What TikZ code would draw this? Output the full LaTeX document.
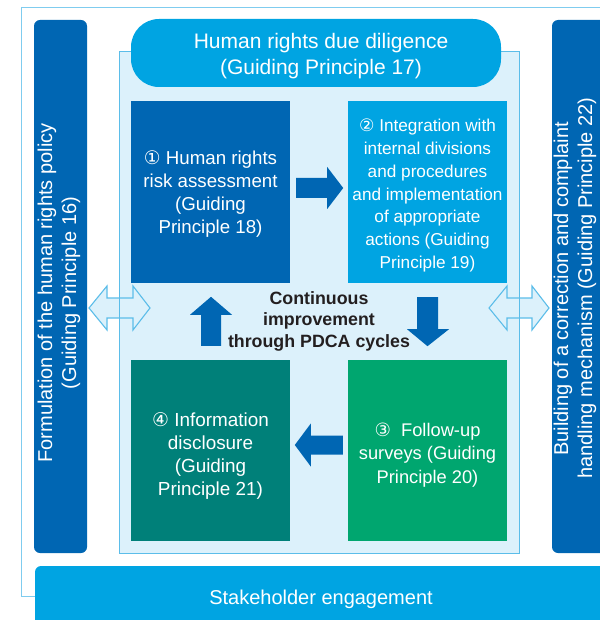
\documentclass[tikz,border=0pt]{standalone}
\usepackage{fontspec}
\setmainfont{Liberation Sans}
\newfontfamily\circfont{DejaVu Sans}
\usetikzlibrary{calc}

\definecolor{deepblue}{HTML}{0066B3}
\definecolor{skyblue}{HTML}{00A4E2}
\definecolor{leafgreen}{HTML}{00A66F}
\definecolor{tealgreen}{HTML}{008079}
\definecolor{paleblue}{HTML}{DCF1FB}
\definecolor{edgeblue}{HTML}{5BBDE9}
\definecolor{framelight}{HTML}{7FCCEF}
\definecolor{inkdark}{HTML}{231F20}

\tikzset{
  stepbox/.style={rectangle, minimum width=159pt, minimum height=182pt, inner sep=0pt},
  steptext/.style={text=white, align=center, inner sep=0pt,
    font=\fontsize{18.7}{23}\selectfont},
  blockarrow/.style={fill=deepblue, draw=none},
  twoway/.style={fill=paleblue, draw=edgeblue, line width=1.1pt, line join=miter},
  columntext/.style={text=white, rotate=90, font=\fontsize{20}{24}\selectfont, inner sep=0pt},
  bandtext/.style={text=white, align=center, font=\fontsize{21}{26}\selectfont},
}

\begin{document}
\begin{tikzpicture}[x=1pt, y=-1pt]
\useasboundingbox (0,0) rectangle (599,620);

% thin outer frame
\draw[framelight, line width=1pt] (640,8) -- (21,8) -- (21,596) -- (40,596);

% side columns
\fill[deepblue, rounded corners=6pt] (34,20) rectangle (87,553);
\fill[deepblue, rounded corners=6pt] (552,20) rectangle (640,553);
\node[columntext] (leftA) at (47,293) {Formulation of the human rights policy};
\node[columntext] (leftB) at (71,293) {(Guiding Principle 16)};
\node[columntext] (rightA) at (563,289) {Building of a correction and complaint};
\node[columntext] (rightB) at (587,288) {handling mechanism (Guiding Principle 22)};

% pale panel
\fill[paleblue] (119,52) rectangle (519,553);

% two-way arrows linking the side columns with the panel
\draw[twoway] (89,308) -- (107,286) -- (107,298) -- (133,298) -- (133,286)
  -- (150,308) -- (133,330) -- (133,318) -- (107,318) -- (107,330) -- cycle;
\draw[twoway] (489,308) -- (507,286) -- (507,298) -- (532,298) -- (532,286)
  -- (549,308) -- (532,330) -- (532,318) -- (507,318) -- (507,330) -- cycle;

% panel outline drawn over the arrows
\draw[edgeblue, line width=1pt] (119,52) rectangle (519,553);

% due diligence banner
\fill[skyblue, rounded corners=28pt] (131,19) rectangle (501,87);
\node[bandtext] (dd) at (321,56) {Human rights due diligence\\(Guiding Principle 17)};

% the four steps
\node[stepbox, fill=deepblue] (s1) at (210.5,192) {};
\node[stepbox, fill=skyblue] (s2) at (427.5,192) {};
\node[stepbox, fill=leafgreen, minimum height=181pt] (s3) at (427.5,450.5) {};
\node[stepbox, fill=tealgreen, minimum height=181pt] (s4) at (210.5,450.5) {};

\node[steptext] (t1) at ($(s1.center)+(0,2)$)
  {{\circfont ①} Human rights\\risk assessment\\(Guiding\\Principle 18)};
\node[steptext, font=\fontsize{17.2}{22.7}\selectfont] (t2) at ($(s2.center)+(0,3.5)$)
  {{\circfont ②} Integration with\\internal divisions\\and procedures\\and implementation\\of appropriate\\actions (Guiding\\Principle 19)};
\node[steptext, font=\fontsize{18.3}{23.3}\selectfont] (t3) at ($(s3.center)+(0,4.5)$)
  {{\circfont ③}\ \ Follow-up\\surveys (Guiding\\Principle 20)};
\node[steptext, font=\fontsize{18.9}{23}\selectfont] (t4) at ($(s4.center)+(0,5.5)$)
  {{\circfont ④} Information\\disclosure\\(Guiding\\Principle 21)};

% cycle arrows between the steps
\fill[blockarrow] ($(s1.east)+(6,-14)$) -- ++(31,0) -- ++(0,-11) -- ++(16,21)
  -- ++(-16,21) -- ++(0,-11) -- ++(-31,0) -- cycle;
\fill[blockarrow] ($(s2.south)+(-10.5,14)$) -- ++(0,32) -- ++(-10,0) -- ++(20.5,17)
  -- ++(21.5,-17) -- ++(-11,0) -- ++(0,-32) -- cycle;
\fill[blockarrow] ($(s3.west)+(-5,-15)$) -- ++(-32,0) -- ++(0,-12) -- ++(-16,21.5)
  -- ++(16,21.5) -- ++(0,-12) -- ++(32,0) -- cycle;
\fill[blockarrow] ($(s4.north)+(-9.5,-14)$) -- ++(0,-31) -- ++(-11,0) -- ++(21,-18)
  -- ++(21,18) -- ++(-11,0) -- ++(0,31) -- cycle;

\node[text=inkdark, align=center, font=\bfseries\fontsize{17.8}{21.5}\selectfont]
  (pdca) at (319,321) {Continuous\\improvement\\through PDCA cycles};

% stakeholder band
\fill[skyblue, rounded corners=6pt] (35,566) rectangle (660,660);
\node[text=white, font=\fontsize{20}{24}\selectfont] (stake) at (321,599) {Stakeholder engagement};
\end{tikzpicture}
\end{document}
